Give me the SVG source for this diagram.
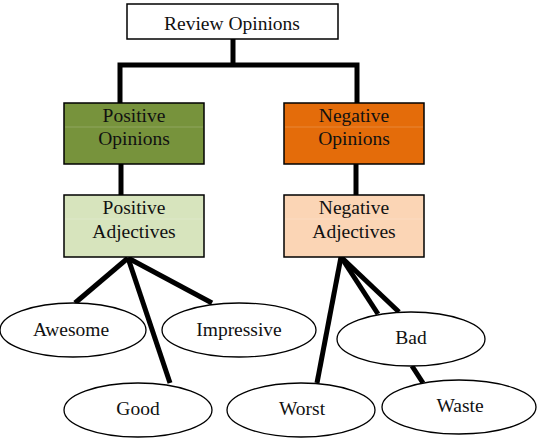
<svg xmlns="http://www.w3.org/2000/svg" width="538" height="444" viewBox="0 0 538 444">
  <style>
    .box { stroke: #000; stroke-width: 1.5; }
    .oval { fill: #fff; stroke: #000; stroke-width: 1.3; }
    .lbl { font-family: "Times New Roman", Tinos, "Liberation Serif", "DejaVu Serif", serif; font-size: 19.5px; fill: #111; text-anchor: middle; }
    .wire { stroke: #000; stroke-width: 5; fill: none; stroke-linecap: butt; }
    .seam { stroke: #fff; stroke-opacity: 0.18; stroke-width: 1; }
  </style>
  <rect width="538" height="444" fill="#fff"/>

  <g id="connectors">
    <polyline class="wire" points="233,39 233,65"/>
    <polyline class="wire" points="120,103 120,65 357,65 357,103"/>
    <line class="wire" x1="121" y1="164" x2="121" y2="195"/>
    <line class="wire" x1="356" y1="164" x2="356" y2="195"/>
    <line class="wire" x1="128" y1="258" x2="75" y2="303"/>
    <line class="wire" x1="128" y1="258" x2="170" y2="383"/>
    <line class="wire" x1="128" y1="258" x2="212" y2="303"/>
    <line class="wire" x1="341" y1="257" x2="317" y2="383"/>
    <line class="wire" x1="341" y1="257" x2="378" y2="314"/>
    <line class="wire" x1="341" y1="257" x2="399" y2="312"/>
    <line class="wire" x1="412" y1="366" x2="423" y2="383"/>
  </g>

  <g id="review-opinions">
    <rect class="box" x="127" y="4" width="211" height="35" fill="#fff"/>
    <text class="lbl" x="232" y="30">Review Opinions</text>
  </g>

  <g id="positive-opinions">
    <rect class="box" x="64" y="103" width="140" height="61" fill="#77933c"/>
    <line class="seam" x1="65" y1="127" x2="203" y2="127"/>
    <text class="lbl" x="134" y="122">Positive</text>
    <text class="lbl" x="134" y="145">Opinions</text>
  </g>

  <g id="negative-opinions">
    <rect class="box" x="284" y="103" width="140" height="61" fill="#e46c0a"/>
    <line class="seam" x1="285" y1="127" x2="423" y2="127"/>
    <text class="lbl" x="354" y="122">Negative</text>
    <text class="lbl" x="354" y="145">Opinions</text>
  </g>

  <g id="positive-adjectives">
    <rect class="box" x="64" y="195" width="140" height="62" fill="#d7e4bd"/>
    <line class="seam" x1="65" y1="219" x2="203" y2="219"/>
    <text class="lbl" x="134" y="214">Positive</text>
    <text class="lbl" x="134" y="238">Adjectives</text>
  </g>

  <g id="negative-adjectives">
    <rect class="box" x="284" y="195" width="140" height="62" fill="#fbd5b5"/>
    <line class="seam" x1="285" y1="219" x2="423" y2="219"/>
    <text class="lbl" x="354" y="214">Negative</text>
    <text class="lbl" x="354" y="238">Adjectives</text>
  </g>

  <g id="awesome">
    <ellipse class="oval" cx="73" cy="330" rx="73" ry="27"/>
    <text class="lbl" x="71" y="336">Awesome</text>
  </g>

  <g id="impressive">
    <ellipse class="oval" cx="239" cy="330" rx="77" ry="27"/>
    <text class="lbl" x="239" y="336">Impressive</text>
  </g>

  <g id="good">
    <ellipse class="oval" cx="138" cy="410" rx="74" ry="27"/>
    <text class="lbl" x="138" y="415">Good</text>
  </g>

  <g id="bad">
    <ellipse class="oval" cx="411" cy="339" rx="74" ry="27"/>
    <text class="lbl" x="411" y="344">Bad</text>
  </g>

  <g id="worst">
    <ellipse class="oval" cx="301" cy="410" rx="74" ry="27"/>
    <text class="lbl" x="302" y="415">Worst</text>
  </g>

  <g id="waste">
    <ellipse class="oval" cx="459" cy="407" rx="77" ry="27"/>
    <text class="lbl" x="460" y="412">Waste</text>
  </g>
</svg>
